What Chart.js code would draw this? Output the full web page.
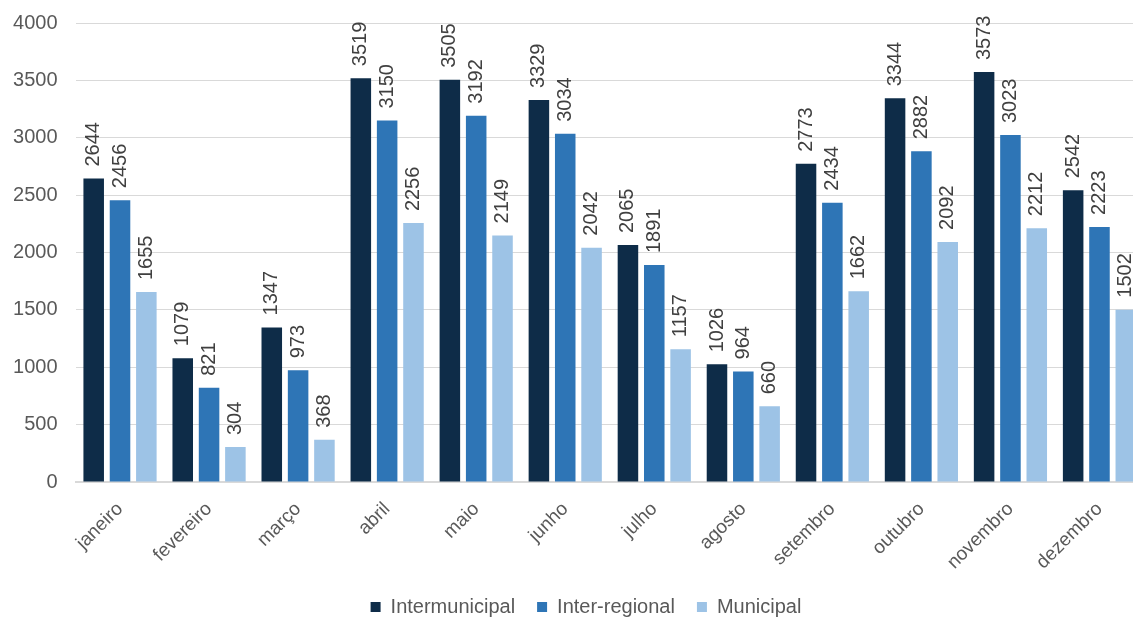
<!DOCTYPE html>
<html>
<head>
<meta charset="utf-8">
<script src="https://cdn.jsdelivr.net/npm/chart.js@4/dist/chart.umd.min.js"></script>
<style>
html,body{margin:0;padding:0;background:#fff;overflow:hidden;}
#wrap{width:1144px;height:618px;position:relative;}
</style>
</head>
<body>
<div id="wrap"><canvas id="c"></canvas></div>
<script>
const categories = ["janeiro","fevereiro","março","abril","maio","junho","julho","agosto","setembro","outubro","novembro","dezembro"];
const intermunicipal = [2644,1079,1347,3519,3505,3329,2065,1026,2773,3344,3573,2542];
const interRegional = [2456,821,973,3150,3192,3034,1891,964,2434,2882,3023,2223];
const municipal = [1655,304,368,2256,2149,2042,1157,660,1662,2092,2212,1502];
const seriesNames = ["Intermunicipal","Inter-regional","Municipal"];
const seriesColors = ["#0e2c48","#2e75b6","#9dc3e6"];

const FONT = "'Liberation Sans', Arial, sans-serif";

const barLabels = {
  id: 'barLabels',
  afterDatasetsDraw(chart) {
    const ctx = chart.ctx;
    ctx.save();
    ctx.font = "20px " + FONT;
    ctx.fillStyle = "#404040";
    ctx.textAlign = "left";
    ctx.textBaseline = "middle";
    chart.data.datasets.forEach((ds, di) => {
      const meta = chart.getDatasetMeta(di);
      meta.data.forEach((bar, i) => {
        ctx.save();
        ctx.translate(bar.x, bar.y - 12);
        ctx.rotate(-Math.PI / 2);
        ctx.fillText(String(ds.data[i]), 0, 0);
        ctx.restore();
      });
    });
    ctx.restore();
  }
};

const layoutTweak = {
  id: 'layoutTweak',
  afterLayout(chart) {
    const lg = chart.legend;
    if (lg) { lg.left += 14; lg.right += 14; lg.top += 9; lg.bottom += 9; }
    const xs = chart.scales.x;
    if (xs) { xs.bottom += 30; }
  }
};

new Chart(document.getElementById('c'), {
  type: 'bar',
  data: {
    labels: categories,
    datasets: [
      { label: seriesNames[0], data: intermunicipal, backgroundColor: seriesColors[0] },
      { label: seriesNames[1], data: interRegional, backgroundColor: seriesColors[1] },
      { label: seriesNames[2], data: municipal, backgroundColor: seriesColors[2] }
    ]
  },
  options: {
    responsive: true,
    maintainAspectRatio: false,
    animation: false,
    layout: { padding: { top: 23, left: 0, right: 0, bottom: 0 } },
    datasets: { bar: { categoryPercentage: 0.887, barPercentage: 0.78 } },
    plugins: {
      legend: {
        position: 'bottom',
        labels: {
          font: { family: FONT, size: 20 },
          color: '#595959',
          boxWidth: 10,
          boxHeight: 10,
          padding: 22
        }
      },
      tooltip: { enabled: false }
    },
    scales: {
      x: {
        grid: { display: false, drawTicks: false },
        border: { display: true, color: '#d9d9d9', width: 2 },
        ticks: {
          font: { family: FONT, size: 19 },
          color: '#595959',
          maxRotation: 45,
          minRotation: 45,
          padding: 16,
          autoSkip: false
        },
        afterFit(axis) { axis.height = 84; }
      },
      y: {
        min: 0,
        max: 4000,
        ticks: {
          stepSize: 500,
          font: { family: FONT, size: 20 },
          color: '#595959',
          padding: 18,
          callback: (v) => String(v)
        },
        grid: { color: '#d9d9d9', lineWidth: 1, drawTicks: false },
        border: { display: false },
        afterFit(axis) { axis.width = 75.5; axis.paddingTop = 0; axis.paddingBottom = 0; }
      }
    }
  },
  plugins: [barLabels, layoutTweak]
});
</script>
</body>
</html>
